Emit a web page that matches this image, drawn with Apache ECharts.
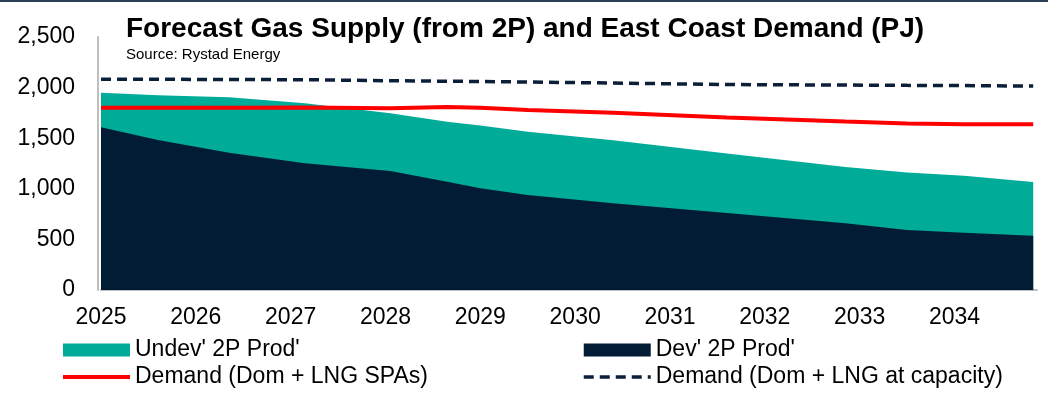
<!DOCTYPE html>
<html>
<head>
<meta charset="utf-8">
<script src="https://cdn.jsdelivr.net/npm/echarts@6/dist/echarts.min.js"></script>
<style>
  html, body { margin: 0; padding: 0; background: #fff; }
  #chart { width: 1048px; height: 401px; }
</style>
</head>
<body>
<div id="chart"></div>
<script>
// x positions in years (labels only at whole years)
var years = [2025.0, 2025.6, 2026.35, 2027.15, 2028.05, 2028.65, 2029.0, 2029.5, 2030.4, 2031.6, 2032.85, 2033.5, 2034.1, 2034.83]
// developed 2P production (PJ)
var devProd = [1607, 1482, 1357, 1252, 1176, 1070, 1005, 939, 856, 760, 659, 593, 566, 537]
// undeveloped 2P production, sits on top of developed
var undevProd = [343, 443, 547, 593, 570, 593, 620, 625, 624, 590, 556, 567, 562, 530]
// demand lines
var demandSpa = [1800, 1800, 1802, 1803, 1795, 1808, 1800, 1778, 1752, 1705, 1665, 1645, 1638, 1638]
var demandCap = [2082, 2082, 2080, 2078, 2068, 2063, 2060, 2055, 2045, 2030, 2025, 2022, 2020, 2015]
var yTicks = [0, 500, 1000, 1500, 2000, 2500]

var font = 'Liberation Sans, Arial, sans-serif'
var teal = '#00AB98'
var navy = '#021C35'

function pairs(vals) {
  return vals.map(function (v, i) { return [years[i], v] })
}
// stacking by hand: undev area drawn from 0 up to dev + undev, dev drawn over it
var supplyTop = devProd.map(function (v, i) { return v + undevProd[i] })

var chart = echarts.init(document.getElementById('chart'))

var legendText = { fontFamily: font, fontSize: 23, color: '#000', lineHeight: 26 }

var option = {
  animation: false,
  title: {
    text: 'Forecast Gas Supply (from 2P) and East Coast Demand (PJ)',
    subtext: 'Source: Rystad Energy',
    left: 126,
    top: 15,
    itemGap: 4,
    padding: 0,
    textStyle: { fontFamily: font, fontSize: 28, fontWeight: 'bold', color: '#000' },
    subtextStyle: { fontFamily: font, fontSize: 15, color: '#000' }
  },
  graphic: [
    { type: 'rect', shape: { x: 0, y: 0, width: 1048, height: 2 }, style: { fill: '#2B3F58' } }
  ],
  grid: { left: 101, right: 11, top: 37, bottom: 111 },
  // two legend columns
  legend: [
    {
      left: 61, top: 337, orient: 'vertical', padding: 0,
      itemWidth: 67, itemHeight: 13, itemGap: 1,
      textStyle: legendText,
      data: [
        { name: "Undev' 2P Prod'", icon: 'rect' },
        { name: 'Demand (Dom + LNG SPAs)', itemStyle: { opacity: 0 }, lineStyle: { width: 4 } }
      ]
    },
    {
      left: 582, top: 337, orient: 'vertical', padding: 0,
      itemWidth: 67, itemHeight: 13, itemGap: 1,
      textStyle: legendText,
      data: [
        { name: "Dev' 2P Prod'", icon: 'rect' },
        { name: 'Demand (Dom + LNG at capacity)', itemStyle: { opacity: 0 }, lineStyle: { width: 3.5 } }
      ]
    }
  ],
  xAxis: {
    type: 'value',
    min: 2025,
    max: 2034.87,
    interval: 1,
    axisLine: { show: true, lineStyle: { color: '#BFBFBF', width: 2 } },
    axisTick: { show: false },
    splitLine: { show: false },
    axisLabel: {
      margin: 16,
      fontFamily: font, fontSize: 23, color: '#000',
      formatter: function (v) { return Number.isInteger(v) ? String(v) : '' }
    }
  },
  yAxis: {
    type: 'value',
    min: yTicks[0],
    max: yTicks[yTicks.length - 1],
    interval: 500,
    offset: 3,
    axisLine: { show: true, lineStyle: { color: '#BFBFBF', width: 2 } },
    axisTick: { show: false },
    splitLine: { show: false },
    axisLabel: {
      margin: 23,
      fontFamily: font, fontSize: 23, color: '#000',
      formatter: function (v) { return v.toLocaleString('en-US') }
    }
  },
  series: [
    {
      name: "Undev' 2P Prod'",
      type: 'line',
      symbol: 'none',
      color: teal,
      lineStyle: { width: 0 },
      areaStyle: { color: teal, opacity: 1 },
      z: 1,
      data: pairs(supplyTop)
    },
    {
      name: "Dev' 2P Prod'",
      type: 'line',
      symbol: 'none',
      color: navy,
      lineStyle: { width: 0 },
      areaStyle: { color: navy, opacity: 1 },
      z: 2,
      data: pairs(devProd)
    },
    {
      name: 'Demand (Dom + LNG SPAs)',
      type: 'line',
      symbol: 'none',
      color: '#FF0000',
      lineStyle: { width: 4, color: '#FF0000' },
      z: 3,
      data: pairs(demandSpa)
    },
    {
      name: 'Demand (Dom + LNG at capacity)',
      type: 'line',
      symbol: 'none',
      color: '#0B1F3A',
      lineStyle: { width: 3.5, color: '#0B1F3A', type: [10, 6] },
      z: 3,
      data: pairs(demandCap)
    }
  ]
}

chart.setOption(option)
</script>
</body>
</html>
